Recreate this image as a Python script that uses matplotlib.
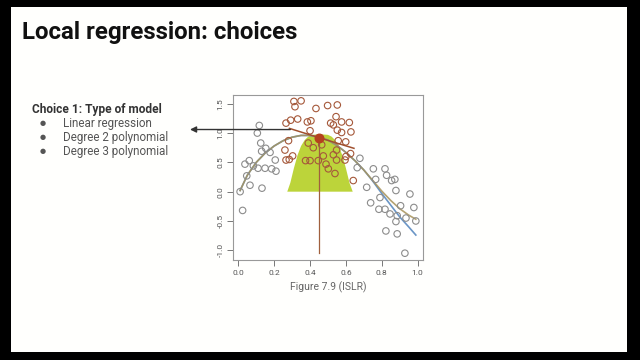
import numpy as np
import matplotlib.pyplot as plt
from matplotlib.patches import Rectangle

plt.rcParams['font.family'] = ['Roboto', 'DejaVu Sans']

# points outside the kernel window (gray)
gray_x = [0.01, 0.024, 0.037, 0.061, 0.047, 0.065, 0.084, 0.11, 0.106, 0.117, 0.125, 0.13,
          0.132, 0.153, 0.149, 0.177, 0.186, 0.21, 0.206,
          0.663, 0.678, 0.716, 0.753, 0.766, 0.738, 0.79, 0.818, 0.827, 0.855, 0.873, 0.879,
          0.784, 0.818, 0.846, 0.823, 0.879, 0.886, 0.905, 0.886, 0.929, 0.935, 0.957, 0.979, 0.99]
gray_y = [0.0, -0.32, 0.47, 0.53, 0.27, 0.11, 0.44, 0.40, 1.0, 1.13, 0.83, 0.69,
          0.06, 0.74, 0.40, 0.67, 0.39, 0.35, 0.54,
          0.41, 0.57, 0.075, 0.39, 0.21, -0.19, -0.10, 0.39, 0.28, 0.19, 0.21, 0.02,
          -0.30, -0.30, -0.38, -0.67, -0.51, -0.41, -0.24, -0.72, -1.05, -0.45, -0.04, -0.27, -0.50]

# points inside the window (brown)
win_x = [0.31, 0.316, 0.35, 0.266, 0.292, 0.331, 0.385, 0.405, 0.433, 0.498, 0.552, 0.515,
         0.53, 0.545, 0.576, 0.552, 0.576, 0.619, 0.628, 0.599, 0.557, 0.40, 0.28, 0.26,
         0.266, 0.284, 0.303, 0.39, 0.418, 0.375, 0.40, 0.446, 0.465, 0.474, 0.489, 0.502,
         0.539, 0.53, 0.548, 0.548, 0.595, 0.60, 0.626, 0.641]
win_y = [1.54, 1.45, 1.55, 1.17, 1.22, 1.24, 1.19, 1.21, 1.42, 1.47, 1.48, 1.17,
         1.14, 1.28, 1.19, 1.05, 1.01, 1.18, 1.02, 0.85, 0.87, 1.04, 0.87, 0.71,
         0.54, 0.55, 0.61, 0.83, 0.75, 0.53, 0.53, 0.53, 0.80, 0.61, 0.47, 0.39,
         0.31, 0.63, 0.71, 0.54, 0.54, 0.60, 0.65, 0.19]

# true function (blue) and loess fit (gold)
curve_x = [0.01, 0.05, 0.10, 0.15, 0.20, 0.25, 0.30, 0.35, 0.40, 0.45, 0.50, 0.55,
           0.60, 0.65, 0.70, 0.75, 0.80, 0.85, 0.90, 0.95, 0.99]
fit_y = [0.02, 0.28, 0.50, 0.66, 0.78, 0.87, 0.93, 0.96, 0.96, 0.93, 0.88, 0.79,
         0.67, 0.53, 0.37, 0.19, 0.01, -0.15, -0.29, -0.40, -0.47]
true_y = [0.02, 0.28, 0.50, 0.66, 0.78, 0.87, 0.93, 0.96, 0.96, 0.93, 0.88, 0.79,
          0.67, 0.53, 0.37, 0.18, -0.03, -0.23, -0.43, -0.60, -0.74]

# kernel weights (green area)
kern_x = [0.273, 0.29, 0.31, 0.33, 0.35, 0.37, 0.39, 0.41, 0.455, 0.50, 0.52, 0.54,
          0.56, 0.58, 0.60, 0.62, 0.638]
kern_y = [0.0, 0.15, 0.40, 0.62, 0.78, 0.88, 0.94, 0.97, 0.98, 0.97, 0.94, 0.88,
          0.78, 0.62, 0.40, 0.15, 0.0]

# local linear fit at the target point
local_x = [0.285, 0.452, 0.645]
local_y = [1.08, 0.92, 0.74]
target = (0.452, 0.92)

choices = ["Linear regression", "Degree 2 polynomial", "Degree 3 polynomial"]

fig = plt.figure(figsize=(6.4, 3.6), dpi=100, facecolor='black')
fig.patches.append(Rectangle((11/640, 1-352/360), 616/640, 345/360,
                             transform=fig.transFigure, facecolor='#fffffd',
                             edgecolor='none', zorder=-5))

fig.text(22/640, 1-33/360, "Local regression: choices", fontsize=17.3,
         fontweight='bold', color='#111111', va='center', ha='left')

fig.text(32/640, 1-109/360, "Choice 1: Type of model", fontsize=8.6,
         fontweight='bold', color='#333333', va='center', ha='left')
for i, c in enumerate(choices):
    yy = 1-(124+13.5*i)/360
    fig.text(43/640, yy, "\u25CF", fontsize=5, color='#555555', va='center', ha='center')
    fig.text(63/640, yy, c, fontsize=8.4, color='#555555', va='center', ha='left')

ax = fig.add_axes([233.3/640, 1-260/360, 189.7/640, 165.3/360])
ax.set_facecolor('white')
ax.fill(kern_x, kern_y, color='#bcd43a', zorder=1, lw=0)
ax.plot(curve_x, true_y, color='#6a95c6', lw=1.2, zorder=2)
ax.plot(curve_x, fit_y, color='#a8935a', lw=1.2, zorder=3, alpha=0.85)
ax.scatter(gray_x, gray_y, s=22, facecolors='none', edgecolors='#8c8c8c', lw=0.8, zorder=4)
ax.scatter(win_x, win_y, s=22, facecolors='none', edgecolors='#a5583a', lw=0.8, zorder=4)
ax.plot(local_x, local_y, color='#a0502e', lw=1.1, zorder=5)
ax.plot([target[0], target[0]], [-1.05, target[1]], color='#a0603e', lw=0.9, zorder=5)
ax.scatter([target[0]], [target[1]], s=38, color='#b5421e', zorder=6)

ax.annotate('', xy=(190/640, 1-129.5/360), xycoords='figure fraction',
            xytext=(0.29, 1.06), textcoords='data',
            arrowprops=dict(arrowstyle='-|>', color='#333333', lw=1.0, mutation_scale=9,
                            shrinkA=0, shrinkB=0),
            annotation_clip=False, zorder=7)

ax.set_xlim(-0.028, 1.03)
ax.set_ylim(-1.166, 1.655)
ax.set_xticks([0.0, 0.2, 0.4, 0.6, 0.8, 1.0])
ax.set_yticks([-1.0, -0.5, 0.0, 0.5, 1.0, 1.5])
ax.set_xticklabels(['0.0', '0.2', '0.4', '0.6', '0.8', '1.0'])
ax.set_yticklabels(['-1.0', '-0.5', '0.0', '0.5', '1.0', '1.5'], rotation=90, va='center')
ax.tick_params(direction='out', length=4, width=0.7, colors='#777777', labelsize=6,
               labelcolor='#555555', pad=3)
for s in ax.spines.values():
    s.set_color('#999999')
    s.set_linewidth(0.8)

fig.text(328/640, 1-287/360, "Figure 7.9 (ISLR)", fontsize=7.5, color='#666666',
         va='center', ha='center')

fig.savefig('out.png', dpi=100, facecolor='black')
